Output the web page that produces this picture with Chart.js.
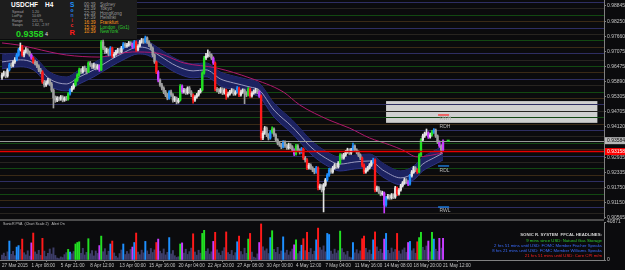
<!DOCTYPE html>
<html><head><meta charset="utf-8">
<script src="https://cdn.jsdelivr.net/npm/chart.js@4.4.1/dist/chart.umd.min.js"></script>
<style>
html,body{margin:0;padding:0;background:#0b0b0d;width:625px;height:270px;overflow:hidden;font-family:"Liberation Sans",Arial,sans-serif;}
canvas{position:absolute;left:0;}
#c1{top:0;z-index:1}
#c2{top:219px;z-index:2}
.t{position:absolute;white-space:nowrap;line-height:1;z-index:5;}
.b{font-weight:bold;}
.sm{font-size:3.6px;color:#a4a4a4;}
.tm{font-size:4.6px;}
.hr{right:23px;text-align:right;font-size:4.3px;}
</style></head>
<body>
<canvas id="c1" width="625" height="223"></canvas>
<canvas id="c2" width="625" height="51"></canvas>
<div class="t" style="left:0;top:219px;width:604px;height:2px;background:#4c4c4c;z-index:3"></div>

<div class="t" style="left:0;top:0;width:137px;height:39px;background:#1d1d1d;z-index:4"></div>
<div class="t b" style="left:11px;top:2px;font-size:6.5px;color:#fff">USDCHF</div>
<div class="t b" style="left:45px;top:2px;font-size:6.5px;color:#fff">H4</div>
<div class="t sm" style="left:12px;top:10.5px">Spread</div>
<div class="t sm" style="left:12px;top:15px">LotPip</div>
<div class="t sm" style="left:12px;top:19.5px">Range</div>
<div class="t sm" style="left:12px;top:24px">Swaps</div>
<div class="t sm" style="left:32px;top:10.5px">1.20</div>
<div class="t sm" style="left:32px;top:15px">10.69</div>
<div class="t sm" style="left:32px;top:19.5px">121.75</div>
<div class="t sm" style="left:32px;top:24px">1.62, -2.97</div>
<div class="t b" style="left:16px;top:29.5px;font-size:9px;color:#22d622">0.9358</div>
<div class="t" style="left:45px;top:32px;font-size:5.5px;color:#e0e0e0">4</div>
<div class="t b" style="left:70px;top:1.5px;font-size:6.5px;color:#1e90ff">S</div>
<div class="t b" style="left:70.5px;top:8px;font-size:5px;color:#1e90ff">o</div>
<div class="t b" style="left:70.5px;top:13px;font-size:5px;color:#2f6fd0">n</div>
<div class="t b" style="left:71.5px;top:17.5px;font-size:5px;color:#d03030">i</div>
<div class="t b" style="left:70.5px;top:22.5px;font-size:5px;color:#ff2a2a">c</div>
<div class="t b" style="left:69.5px;top:29px;font-size:7.5px;color:#ff1a1a">R</div>
<div class="t tm" style="left:84px;top:2.7px;color:#9a9a9a">00:39</div>
<div class="t tm" style="left:84px;top:7.3px;color:#9a9a9a">23:39</div>
<div class="t tm" style="left:84px;top:11.8px;color:#9a9a9a">22:39</div>
<div class="t tm" style="left:84px;top:16.4px;color:#9a9a9a">17:39</div>
<div class="t tm" style="left:84px;top:20.9px;color:#ff9a1a">16:39</div>
<div class="t tm" style="left:84px;top:25.5px;color:#ff9a1a">15:39</div>
<div class="t tm" style="left:84px;top:30px;color:#ff9a1a">10:39</div>
<div class="t tm" style="left:100px;top:2.7px;color:#9a9a9a">Sydney</div>
<div class="t tm" style="left:100px;top:7.3px;color:#9a9a9a">Tokyo</div>
<div class="t tm" style="left:100px;top:11.8px;color:#9a9a9a">HongKong</div>
<div class="t tm" style="left:100px;top:16.4px;color:#9a9a9a">Helsinki</div>
<div class="t tm" style="left:100px;top:20.9px;color:#ff9a1a">Frankfurt</div>
<div class="t tm" style="left:100px;top:25.5px;color:#2ecc2e">London&nbsp; (Gx1)</div>
<div class="t tm" style="left:100px;top:30px;color:#2ecc2e">NewYork</div>

<div class="t" style="left:3px;top:223.3px;font-size:3.6px;color:#c0c0c0">SonicR PVA&nbsp; (Chart Scale 2)&nbsp;&nbsp; Alert On</div>
<div class="t hr b" style="top:232.8px;color:#d4d4d4">SONIC R. SYSTEM&nbsp; FFCAL HEADLINES:</div>
<div class="t hr" style="top:238.6px;color:#2ecc2e">9 mins since USD: Natural Gas Storage</div>
<div class="t hr" style="top:243.6px;color:#3a6cff">2 hrs 51 mins until USD: FOMC Member Fischer Speaks</div>
<div class="t hr" style="top:248.6px;color:#3a6cff">8 hrs 21 mins until USD: FOMC Member Williams Speaks</div>
<div class="t hr" style="top:253.6px;color:#ff2020">21 hrs 51 mins until USD: Core CPI m/m</div>

<script>
// ---- data (prices in pips: value / 10000) ----
const opens = [
9605,9615,9623,9611,9635,9654,9650,9666,9674,9693, 9713,9724,9693,9705,9713,9705,9693,9681,9666,9662,
9650,9635,9627,9588,9576,9584,9595,9580,9556,9525, 9517,9525,9521,9529,9517,9525,9521,9541,9556,9564,
9576,9595,9615,9635,9627,9642,9635,9627,9662,9654, 9646,9654,9642,9650,9635,9744,9720,9705,9713,9697,
9720,9689,9697,9705,9713,9705,9720,9736,9728,9732, 9740,9736,9724,9744,9713,9728,9744,9752,9744,9760,
9744,9732,9720,9693,9666,9627,9595,9576,9564,9549, 9537,9525,9549,9537,9517,9525,9510,9517,9572,9549,
9556,9545,9564,9549,9537,9517,9529,9537,9549,9556, 9623,9681,9689,9697,9693,9681,9662,9560,9556,9549,
9560,9545,9556,9533,9541,9549,9556,9541,9549,9564, 9537,9549,9556,9545,9537,9560,9533,9545,9549,9556,
9549,9533,9369,9388,9408,9381,9369,9392,9404,9381, 9361,9349,9342,9334,9353,9338,9330,9342,9334,9322,
9306,9338,9322,9314,9326,9291,9283,9252,9263,9252, 9244,9236,9252,9174,9182,9166,9185,9205,9224,9244,
9236,9252,9263,9256,9271,9302,9291,9302,9314,9322, 9310,9322,9338,9322,9314,9302,9291,9263,9236,9244,
9252,9263,9275,9283,9166,9174,9158,9150,9154,9107, 9135,9142,9135,9146,9138,9174,9150,9166,9182,9193,
9205,9197,9189,9221,9236,9252,9244,9236,9302,9361, 9377,9385,9388,9373,9381,9392,9400,9377,9353,9338,
9322];
const highs = [
9622,9630,9628,9640,9661,9662,9670,9683,9699,9720, 9740,9731,9712,9722,9718,9709,9698,9686,9673,9668,
9655,9641,9632,9594,9592,9602,9600,9586,9561,9533, 9531,9530,9535,9534,9530,9532,9546,9561,9571,9582,
9600,9620,9642,9640,9648,9650,9641,9667,9668,9660, 9661,9658,9656,9655,9750,9751,9726,9720,9717,9726,
9724,9703,9711,9719,9718,9727,9742,9741,9739,9746, 9745,9740,9750,9748,9734,9750,9758,9757,9767,9764,
9749,9737,9725,9698,9670,9632,9600,9582,9569,9555, 9543,9554,9556,9542,9531,9529,9524,9578,9577,9563,
9561,9569,9570,9554,9541,9535,9543,9555,9562,9628, 9688,9700,9713,9706,9698,9686,9666,9567,9562,9566,
9565,9562,9560,9548,9555,9562,9560,9554,9570,9568, 9556,9561,9560,9550,9566,9564,9550,9557,9563,9561,
9553,9537,9395,9414,9412,9386,9398,9412,9409,9386, 9366,9355,9348,9359,9358,9344,9349,9347,9339,9327,
9344,9343,9327,9332,9330,9297,9288,9270,9268,9257, 9250,9258,9256,9189,9187,9191,9211,9230,9250,9249,
9258,9269,9268,9277,9308,9307,9309,9320,9329,9327, 9328,9349,9342,9327,9319,9307,9295,9268,9251,9258,
9269,9281,9290,9287,9181,9179,9163,9161,9158,9141, 9149,9147,9152,9151,9180,9178,9172,9188,9199,9212,
9210,9202,9227,9242,9258,9257,9249,9308,9367,9384, 9392,9404,9393,9388,9399,9406,9404,9381,9358,9343,
9362];
const lows = [
9598,9610,9604,9606,9630,9643,9646,9660,9670,9688, 9708,9688,9686,9700,9697,9688,9676,9660,9654,9644,
9628,9620,9582,9568,9570,9579,9574,9549,9486,9508, 9511,9514,9516,9510,9512,9515,9517,9536,9550,9559,
9571,9590,9611,9620,9622,9629,9619,9624,9648,9640, 9641,9635,9637,9629,9632,9714,9698,9700,9690,9692,
9683,9684,9692,9700,9699,9701,9716,9722,9723,9727, 9730,9718,9720,9707,9709,9724,9739,9738,9740,9738,
9726,9713,9686,9660,9620,9588,9570,9557,9542,9530, 9518,9520,9531,9509,9511,9502,9505,9513,9543,9544,
9539,9540,9543,9530,9505,9512,9524,9532,9544,9552, 9618,9675,9684,9686,9675,9656,9553,9549,9542,9544,
9538,9540,9520,9528,9536,9544,9535,9536,9544,9530, 9532,9543,9503,9530,9533,9527,9528,9540,9544,9542,
9527,9361,9362,9383,9374,9361,9364,9387,9375,9354, 9342,9336,9327,9330,9332,9324,9325,9327,9316,9300,
9302,9316,9306,9309,9284,9275,9245,9247,9246,9237, 9229,9231,9166,9168,9158,9080,9180,9200,9219,9230,
9231,9247,9250,9251,9267,9285,9286,9297,9309,9304, 9305,9317,9316,9307,9296,9284,9256,9229,9231,9239,
9247,9258,9270,9158,9160,9152,9143,9145,9076,9102, 9130,9129,9130,9132,9133,9144,9145,9161,9177,9188,
9191,9183,9185,9216,9231,9238,9230,9232,9297,9356, 9371,9379,9367,9368,9376,9387,9371,9347,9332,9310,
9318];
const closes = [
9615,9623,9611,9635,9654,9650,9666,9674,9693,9713, 9724,9693,9705,9713,9705,9693,9681,9666,9662,9650,
9635,9627,9588,9576,9584,9595,9580,9556,9525,9517, 9525,9521,9529,9517,9525,9521,9541,9556,9564,9576,
9595,9615,9635,9627,9642,9635,9627,9662,9654,9646, 9654,9642,9650,9635,9744,9720,9705,9713,9697,9720,
9689,9697,9705,9713,9705,9720,9736,9728,9732,9740, 9736,9724,9744,9713,9728,9744,9752,9744,9760,9744,
9732,9720,9693,9666,9627,9595,9576,9564,9549,9537, 9525,9549,9537,9517,9525,9510,9517,9572,9549,9556,
9545,9564,9549,9537,9517,9529,9537,9549,9556,9623, 9681,9689,9697,9693,9681,9662,9560,9556,9549,9560,
9545,9556,9533,9541,9549,9556,9541,9549,9564,9537, 9549,9556,9545,9537,9560,9533,9545,9549,9556,9549,
9533,9369,9388,9408,9381,9369,9392,9404,9381,9361, 9349,9342,9334,9353,9338,9330,9342,9334,9322,9306,
9338,9322,9314,9326,9291,9283,9252,9263,9252,9244, 9236,9252,9174,9182,9166,9185,9205,9224,9244,9236,
9252,9263,9256,9271,9302,9291,9302,9314,9322,9310, 9322,9338,9322,9314,9302,9291,9263,9236,9244,9252,
9263,9275,9283,9166,9174,9158,9150,9154,9107,9135, 9142,9135,9146,9138,9174,9150,9166,9182,9193,9205,
9197,9189,9221,9236,9252,9244,9236,9302,9361,9377, 9385,9388,9373,9381,9392,9400,9377,9353,9338,9322,
9358];
const volumes = [
5200,7400,3900,8800,20400,6100,9300,4700,13900,15500, 11200,22500,7800,5600,9900,4200,18400,29000,8700,6300,
10400,5100,23300,9600,3800,7200,11800,6400,13100,4900, 2100,1500,3300,2600,5800,7900,11400,8600,6700,9100,
17200,18800,19600,7300,12600,5400,8200,22900,6800,10100, 4400,9700,7100,15500,25700,8900,12200,5300,9400,17200,
20400,7600,4100,2300,6900,10800,17200,5900,9200,6600, 11300,13900,18800,29000,8400,5700,10600,7700,20000,9800,
6200,12400,8100,10900,18800,22500,9500,7000,11900,5500, 8300,24100,6500,10200,4600,2800,3500,17200,18400,7400,
11600,6000,9000,12800,28200,8600,5200,10500,7300,28600, 31900,9300,12100,6400,8800,20000,29800,11000,7600,5000,
9600,13300,30200,8000,6100,10300,4800,7900,19600,25700, 9100,5800,12700,7200,22500,28600,8500,3100,2200,6600,
18800,38800,14200,9900,12000,7000,24100,31500,11400,8200, 13600,6300,9700,24900,7800,10600,5400,8900,11800,16300,
21700,6900,9200,15900,22900,10100,29800,8300,12400,6000, 9500,21700,34300,13400,10800,15200,8800,28600,27400,9600,
6400,11700,7500,10000,31100,12300,8100,5600,9400,3200, 2500,18800,7700,11100,6800,9800,22900,25700,12600,8000,
10700,6300,21700,30200,14100,9300,11500,7400,22500,28600, 10400,7100,12900,8600,11300,28600,9700,6600,10900,13000,
8200,18800,20000,9900,12200,7300,19600,24100,29800,13700, 10500,15100,20400,8900,29800,22500,11600,9300,23300,12800,
23300];
// PVA bar classes (bar indices)
const climaxBearBars = [11,17,22,60,73,84,104,116,122,129,135,141,164,166,172,196,197,203,215,226];
const climaxBullBars = [36,40,41,42,47,54,97,109,110,134,147,160,184,227,228,234];
const risingBullBars = [4,8,9,37,59,66,72,78,91,128,146,153,163,171,177,178,191,202,209,222,235];
const risingBearBars = [16,53,71,85,98,115,140,159,208,221,232,238,240];
// dragon band and long EMA (sampled bars, pips)
const bandBars  = [0,10,17,26,35,42,50,59,67,74,79,86,95,104,111,119,126,135,140,148,158,162,168,176,184,192,200,208,217,224,229,235,240];
const bandUpper = [9693,9701,9689,9626,9607,9634,9662,9701,9732,9751,9747,9716,9677,9658,9662,9626,9611,9595,9583,9505,9439,9408,9361,9318,9294,9302,9306,9267,9240,9259,9294,9318,9337];
const bandMid   = [9666,9674,9662,9599,9580,9607,9635,9674,9705,9724,9720,9689,9650,9631,9635,9599,9584,9568,9556,9478,9412,9381,9334,9291,9267,9275,9279,9240,9213,9232,9267,9291,9310];
const bandLower = [9639,9647,9635,9572,9553,9580,9608,9647,9678,9697,9693,9662,9623,9604,9608,9572,9557,9541,9529,9451,9385,9354,9307,9264,9240,9248,9252,9213,9186,9205,9240,9264,9283];
const maBars   = [0,9,17,26,35,53,71,84,99,117,135,153,162,178,189,200,211,218,226,240];
const maValues = [9740,9732,9720,9705,9693,9685,9705,9701,9662,9642,9603,9549,9498,9439,9408,9369,9342,9322,9295,9310];
// axes
const priceTicks = [0.98845,0.98250,0.97660,0.97075,0.96475,0.95890,0.95305,0.94705,0.94120,0.92935,0.92335,0.91750,0.91150,0.90565];
const volumeTicks = [0,40871];
const tickBars = [0,16,32,48,64,80,96,112,128,144,160,176,192,208,224,240];
const timeLabels = ["27 Mar 2015","1 Apr 08:00","5 Apr 21:00","8 Apr 12:00","13 Apr 00:00","15 Apr 16:00","20 Apr 04:00","22 Apr 20:00","27 Apr 08:00","30 Apr 00:00","4 May 12:00","7 May 04:00","11 May 16:00","14 May 08:00","18 May 20:00","21 May 12:00"];
// horizontal levels
const levels00 = [0.9900,0.9800,0.9700,0.9600,0.9500,0.9400,0.9300,0.9200,0.9100];
const levels50 = [0.9850,0.9750,0.9650,0.9550,0.9450,0.9350,0.9250,0.9150];
const levels25 = [0.9825,0.9725,0.9625,0.9525,0.9425,0.9325,0.9225,0.9125];
const levels75 = [0.9875,0.9775,0.9675,0.9575,0.9475,0.9375,0.9275,0.9175,0.9075];
const bidPrice = 0.93584;
const alertPrice = 0.93158;
const zoneBars = [209,324];
const zonePrices = [0.9513,0.9428];
const pivotNames = ["RDH","RDL","RWL"];
const pivotPrices = [0.94587,0.92595,0.90993];
const pivotBars = [237.3,243.3];

const P = v => v/10000;
const N = closes.length;
const cRed='#ff1a1a', cGreen='#22e022', cBlue='#1e90ff', cMag='#c83cff';
function pvaColor(i, normalUp, normalDn){
  if (climaxBearBars.includes(i)) return cRed;
  if (climaxBullBars.includes(i)) return cGreen;
  if (risingBullBars.includes(i)) return cBlue;
  if (risingBearBars.includes(i)) return cMag;
  return closes[i]>=opens[i] ? normalUp : normalDn;
}
const candleColors = closes.map((c,i)=>pvaColor(i,'#e4e4e4','#a0a0a0'));
const volColors = closes.map((c,i)=>pvaColor(i,'#3d3d68','#3d3d68'));

const XMIN=-1.088, XMAX=327.6;
const font5 = {size:5, family:'"Liberation Sans", Arial, sans-serif'};

const pricePlugin = {
  id:'pricePlugin',
  beforeDatasetsDraw(chart){
    const {ctx, chartArea:a, scales:{x,y}} = chart;
    ctx.save();
    const bx0=x.getPixelForValue(zoneBars[0]), bx1=x.getPixelForValue(zoneBars[1]);
    const by0=y.getPixelForValue(zonePrices[0]), by1=y.getPixelForValue(zonePrices[1]);
    ctx.fillStyle='#cfcfcf'; ctx.fillRect(bx0,by0,bx1-bx0,by1-by0);
    const groups=[[levels00,'#2e2e62'],[levels50,'#124812'],[levels25,'#3a2a16'],[levels75,'#272420']];
    ctx.lineWidth=1;
    groups.forEach(([vals,col])=>{
      ctx.strokeStyle=col;
      vals.forEach(v=>{const py=Math.round(y.getPixelForValue(v))+0.5; ctx.beginPath(); ctx.moveTo(a.left,py); ctx.lineTo(a.right,py); ctx.stroke();});
    });
    ctx.restore();
  },
  afterDatasetsDraw(chart){
    const {ctx, chartArea:a, scales:{x,y}} = chart;
    ctx.save();
    let py=Math.round(y.getPixelForValue(bidPrice))+0.5;
    ctx.strokeStyle='#9a9a9a'; ctx.lineWidth=1;
    ctx.beginPath(); ctx.moveTo(a.left,py); ctx.lineTo(a.right,py); ctx.stroke();
    py=y.getPixelForValue(alertPrice);
    ctx.strokeStyle='#e80000'; ctx.lineWidth=1.5;
    ctx.beginPath(); ctx.moveTo(a.left,py); ctx.lineTo(a.right,py); ctx.stroke();
    // pivot markers
    const mx0=x.getPixelForValue(pivotBars[0]), mx1=x.getPixelForValue(pivotBars[1]);
    const pcols=['#ff2020','#1e90ff','#1e90ff'];
    const toff=[11.5,4.5,4];
    ctx.font='5px "Liberation Sans", Arial, sans-serif'; ctx.textBaseline='middle'; ctx.textAlign='left';
    pivotPrices.forEach((v,k)=>{
      const p=y.getPixelForValue(v);
      ctx.strokeStyle=pcols[k]; ctx.lineWidth=1.2;
      ctx.beginPath(); ctx.moveTo(mx0,p); ctx.lineTo(mx1,p); ctx.stroke();
      ctx.fillStyle='#b8b8b8'; ctx.fillText(pivotNames[k], mx0+1.5, p+toff[k]);
    });
    ctx.fillStyle='#a8a8a8'; ctx.fillText('RWH', mx0+1.5, y.getPixelForValue(pivotPrices[0])+3.5);
    // current price marker
    const gx=x.getPixelForValue(N+1);
    ctx.fillStyle='#22e022'; ctx.fillRect(gx, y.getPixelForValue(bidPrice)-1, 3, 2);
    ctx.restore();
  },
  afterDraw(chart){
    const {ctx, chartArea:a, scales:{y}} = chart;
    ctx.save();
    ctx.font='5px "Liberation Sans", Arial, sans-serif'; ctx.textBaseline='middle'; ctx.textAlign='left';
    [[bidPrice,'#b8b8b8','#111'],[alertPrice,'#ff0000','#ffffff']].forEach(([v,bg,fg])=>{
      const p=y.getPixelForValue(v);
      ctx.fillStyle=bg; ctx.fillRect(a.right+1,p-3.5,20,7);
      ctx.fillStyle=fg; ctx.fillText(v.toFixed(5), a.right+3, p+0.3);
    });
    ctx.restore();
  }
};

new Chart(document.getElementById('c1'), {
  type:'bar',
  data:{datasets:[
    {type:'line', data:bandBars.map((b,k)=>({x:b,y:P(bandUpper[k])})), borderColor:'#2c3384', borderWidth:1, pointRadius:0, cubicInterpolationMode:'monotone', fill:false, order:10},
    {type:'line', data:bandBars.map((b,k)=>({x:b,y:P(bandLower[k])})), borderColor:'#2c3384', borderWidth:1, pointRadius:0, cubicInterpolationMode:'monotone', fill:'-1', backgroundColor:'#1c2260', order:9},
    {type:'line', data:bandBars.map((b,k)=>({x:b,y:P(bandMid[k])})), borderColor:'#9a9abf', borderWidth:1, pointRadius:0, cubicInterpolationMode:'monotone', fill:false, order:8},
    {type:'line', data:maBars.map((b,k)=>({x:b,y:P(maValues[k])})), borderColor:'#b0186c', borderWidth:1, pointRadius:0, cubicInterpolationMode:'monotone', fill:false, order:7},
    {type:'bar', data:closes.map((c,i)=>({x:i,y:[P(lows[i]),P(highs[i])]})), backgroundColor:candleColors, barThickness:1, grouped:false, order:2},
    {type:'bar', data:closes.map((c,i)=>({x:i,y:[P(opens[i]),P(c)]})), backgroundColor:candleColors, barThickness:1.7, minBarLength:1, grouped:false, order:1}
  ]},
  options:{
    responsive:false, animation:false, events:[],
    layout:{padding:{top:0,bottom:5,left:0,right:0}},
    plugins:{legend:{display:false}, tooltip:{enabled:false}},
    scales:{
      x:{type:'linear', min:XMIN, max:XMAX, offset:false, display:false},
      y:{position:'right', min:0.90563, max:0.99079, beginAtZero:false,
         afterBuildTicks:s=>{s.ticks=priceTicks.map(v=>({value:v}));},
         afterFit:s=>{s.width=21; s.paddingTop=0; s.paddingBottom=0;},
         ticks:{color:'#c4c4c4', font:font5, padding:1, autoSkip:false, callback:v=>Number(v).toFixed(5)},
         grid:{drawOnChartArea:false, tickLength:2, color:'#808080'},
         border:{color:'#808080'}}
    }
  },
  plugins:[pricePlugin]
});

new Chart(document.getElementById('c2'), {
  type:'bar',
  data:{datasets:[
    {data:volumes.map((v,i)=>({x:i,y:v})), backgroundColor:volColors, barThickness:1.3, grouped:false}
  ]},
  options:{
    responsive:false, animation:false, events:[],
    layout:{padding:{top:3,bottom:0,left:0,right:0}},
    plugins:{legend:{display:false}, tooltip:{enabled:false}},
    scales:{
      x:{type:'linear', min:XMIN, max:XMAX, offset:false,
         afterBuildTicks:s=>{s.ticks=tickBars.map(v=>({value:v}));},
         afterFit:s=>{s.height=10; s.paddingLeft=0; s.paddingRight=0;},
         ticks:{color:'#c4c4c4', font:{size:4.6, family:'"Liberation Sans", Arial, sans-serif'}, padding:1, autoSkip:false, maxRotation:0, minRotation:0, align:'start', callback:(v,idx)=>timeLabels[idx]},
         grid:{drawOnChartArea:false, tickLength:2, color:'#808080'},
         border:{color:'#808080'}},
      y:{position:'right', min:0, max:40871,
         afterBuildTicks:s=>{s.ticks=volumeTicks.map(v=>({value:v}));},
         afterFit:s=>{s.width=21; s.paddingTop=0; s.paddingBottom=0;},
         ticks:{color:'#c4c4c4', font:font5, padding:1, autoSkip:false, callback:v=>String(v)},
         grid:{drawOnChartArea:false, tickLength:2, color:'#808080'},
         border:{color:'#808080'}}
    }
  }
});
</script>
</body></html>
